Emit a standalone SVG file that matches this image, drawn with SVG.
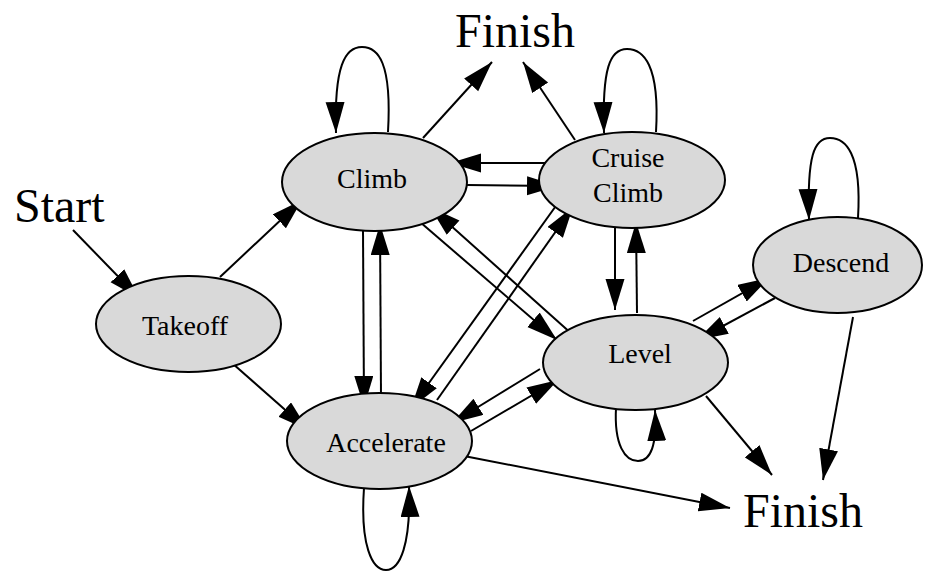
<svg xmlns="http://www.w3.org/2000/svg" width="929" height="571" viewBox="0 0 929 571">
<style>
.node ellipse{fill:#d9d9d9;stroke:#000;stroke-width:2}
.lbl{font-family:"Liberation Serif","Times New Roman",serif;font-size:28px;fill:#000;text-anchor:middle}
.big{font-family:"Liberation Serif","Times New Roman",serif;font-size:48px;fill:#000}
.edges path{fill:none;stroke:#000;stroke-width:2;marker-end:url(#ah)}
</style>
<defs>
<marker id="ah" markerUnits="userSpaceOnUse" markerWidth="33" markerHeight="20" refX="31" refY="9.5" orient="auto">
<path d="M0,0 L31,9.5 L0,19 z" fill="#000"/>
</marker>
</defs>
<rect width="929" height="571" fill="#fff"/>
<g class="edges" id="connectors">
<path d="M73,230 L139,298"/>
<path d="M220,277 L302,200"/>
<path d="M232,363 L308,430"/>
<path d="M423,138 L492,62"/>
<path d="M575,140 L523,62"/>
<path d="M545,163 L450,163"/>
<path d="M467,185 L558,186"/>
<path d="M363,229 L364,407"/>
<path d="M381,397 L380,224"/>
<path d="M558,203 L411,408"/>
<path d="M437,400 L573,207"/>
<path d="M420,222 L557,340"/>
<path d="M573,335 L430,207"/>
<path d="M615,225 L615,310"/>
<path d="M637,313 L636,222"/>
<path d="M693,321 L769,278"/>
<path d="M775,298 L697,340"/>
<path d="M540,369 L452,423"/>
<path d="M471,431 L558,380"/>
<path d="M706,396 L772,475"/>
<path d="M853,317 L823,480"/>
<path d="M464,456 L730,508"/>
<path d="M388,132 C392,62 378,47 362,47 C345,47 334,66 336,133"/>
<path d="M656,132 C660,64 643,49 627,49 C610,49 602,68 604,133"/>
<path d="M858,218 C862,152 845,138 830,138 C814,138 807,156 809,220"/>
<path d="M616,408 C614,445 625,461 638,461 C651,461 657,445 655,410"/>
<path d="M364,488 C360,545 372,570 386,570 C400,570 411,545 409,486"/>
</g>
<g class="node" id="climb"><ellipse cx="374.5" cy="182" rx="92.5" ry="49"/><text class="lbl" x="372" y="188">Climb</text></g>
<g class="node" id="cruise"><ellipse cx="632" cy="180" rx="93" ry="48"/><text class="lbl" x="628" y="167">Cruise</text><text class="lbl" x="628" y="202">Climb</text></g>
<g class="node" id="descend"><ellipse cx="837.5" cy="265" rx="84.5" ry="48"/><text class="lbl" x="841" y="272">Descend</text></g>
<g class="node" id="takeoff"><ellipse cx="188.5" cy="324" rx="92.5" ry="48"/><text class="lbl" x="185" y="335">Takeoff</text></g>
<g class="node" id="level"><ellipse cx="635.5" cy="362.5" rx="92.5" ry="47.5"/><text class="lbl" x="640" y="363">Level</text></g>
<g class="node" id="accelerate"><ellipse cx="379.5" cy="441" rx="92.5" ry="48"/><text class="lbl" x="386" y="452">Accelerate</text></g>
<g id="start"><text class="big" x="14" y="222">Start</text></g>
<g id="finish-top"><text class="big" x="455" y="47">Finish</text></g>
<g id="finish-bottom"><text class="big" x="743" y="527">Finish</text></g>
</svg>
